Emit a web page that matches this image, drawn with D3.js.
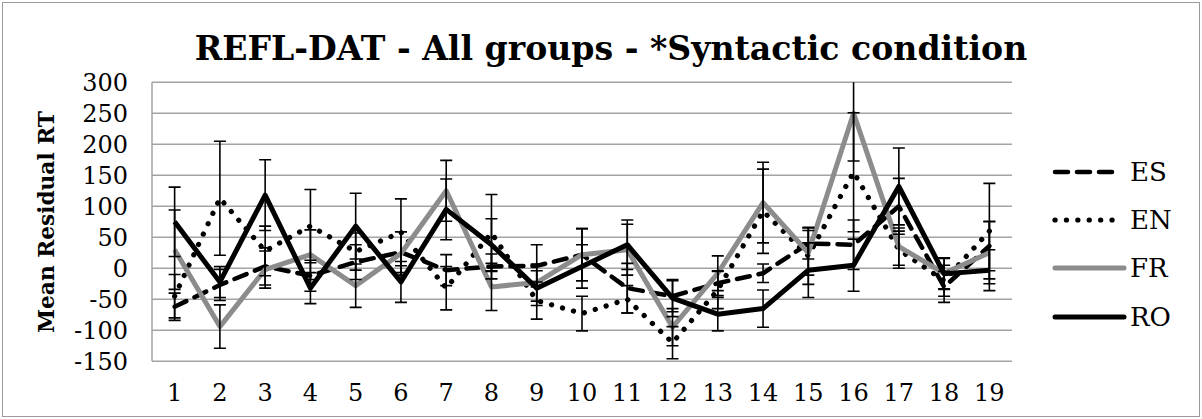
<!DOCTYPE html>
<html>
<head>
<meta charset="utf-8">
<script src="https://cdn.jsdelivr.net/npm/d3@7"></script>
<style>
  html, body { margin: 0; padding: 0; background: #fff; }
  svg { display: block; }
</style>
</head>
<body>
<svg id="chart" width="1202" height="419"></svg>
<script>
// ---- data ----
const categories = ["1","2","3","4","5","6","7","8","9","10","11","12","13","14","15","16","17","18","19"];
const yTicks = [-150, -100, -50, 0, 50, 100, 150, 200, 250, 300];
const seriesNames = ["ES", "EN", "FR", "RO"];
const ES = [-62, -27, 3, -12, 10, 26, -3, 3, 4, 22, -32, -45, -24, -8, 40, 38, 100, -30, 36];
const EN = [-45, 113, 28, 68, 27, 58, -32, 57, -52, -73, -50, -120, -35, 92, 20, 155, 30, -20, 60];
const FR = [30, -94, -2, 22, -28, 24, 125, -30, -23, 22, 30, -95, -8, 106, 25, 250, 35, -8, 25];
const RO = [75, -22, 118, -32, 68, -22, 95, 38, -32, 3, 38, -48, -74, -65, -3, 5, 132, -9, -3];
const ES_err = [22, 25, 30, 25, 28, 33, 25, 20, 34, 42, 40, 25, 20, 15, 25, 40, 45, 25, 40];
const EN_err = [35, 92, 40, 59, 30, 54, 35, 62, 30, 28, 22, 26, 30, 68, 46, 96, 30, 25, 77];
const FR_err = [64, 35, 30, 40, 35, 35, 49, 38, 30, 42, 41, 30, 28, 65, 36, 77, 30, 25, 50];
const RO_err = [56, 25, 57, 25, 53, 33, 49, 42, 28, 35, 40, 30, 27, 30, 44, 42, 62, 25, 33];
const titleText = "REFL-DAT - All groups - *Syntactic condition";
const yTitle = "Mean Residual RT";

const seriesValues = { ES: ES, EN: EN, FR: FR, RO: RO };
const seriesErrors = { ES: ES_err, EN: EN_err, FR: FR_err, RO: RO_err };
const styles = {
  ES: { color: "#000", width: 4.5, dash: "13,9", cap: "round" },
  EN: { color: "#000", width: 5.2, dash: "0.1,11.3", cap: "round" },
  FR: { color: "#8c8c8c", width: 5, dash: null, cap: "butt" },
  RO: { color: "#000", width: 5, dash: null, cap: "butt" }
};

// ---- layout ----
const svg = d3.select("#chart");
const plot = { left: 152, right: 1012, top: 82.3, bottom: 361.3 };
const serif = "'DejaVu Serif', 'Liberation Serif', serif";

svg.append("rect").attr("x", 2.5).attr("y", 2.5).attr("width", 1197).attr("height", 414)
  .attr("fill", "#fff").attr("stroke", "#9a9a9a").attr("stroke-width", 1);

const x = d3.scaleBand().domain(categories).range([plot.left, plot.right]).padding(0);
const cx = c => x(c) + x.bandwidth() / 2;
const y = d3.scaleLinear().domain([-150, 300]).range([plot.bottom, plot.top]);

// gridlines
const grid = svg.append("g");
grid.selectAll("line").data(yTicks).join("line")
  .attr("x1", plot.left).attr("x2", plot.right)
  .attr("y1", d => y(d)).attr("y2", d => y(d))
  .attr("stroke", "#a3a3a3").attr("stroke-width", 1.5);
// left axis line
svg.append("line").attr("x1", plot.left).attr("x2", plot.left)
  .attr("y1", plot.top).attr("y2", plot.bottom)
  .attr("stroke", "#a3a3a3").attr("stroke-width", 1.5);

// y axis labels
const yAxis = d3.axisLeft(y).tickValues(yTicks).tickSize(0).tickPadding(0)
  .tickFormat(d => String(d));
const yg = svg.append("g").attr("transform", `translate(${plot.left - 24},0)`).call(yAxis);
yg.select(".domain").remove();
yg.selectAll("text").attr("font-family", serif).attr("font-size", 24).attr("fill", "#000")
  .attr("dy", "0.36em");

// x axis labels
const xAxis = d3.axisBottom(x).tickSize(0).tickPadding(0);
const xg = svg.append("g").attr("transform", `translate(0,${plot.bottom + 23})`).call(xAxis);
xg.select(".domain").remove();
xg.selectAll("text").attr("font-family", serif).attr("font-size", 24).attr("fill", "#000")
  .attr("dy", "0.71em");

// clip for data
svg.append("clipPath").attr("id", "clip").append("rect")
  .attr("x", plot.left - 20).attr("y", plot.top).attr("width", plot.right - plot.left + 40)
  .attr("height", plot.bottom - plot.top);

const dataG = svg.append("g").attr("clip-path", "url(#clip)");
const line = d3.line().x((d, i) => cx(categories[i])).y(d => y(d));

seriesNames.forEach(name => {
  const s = styles[name];
  const p = dataG.append("path").datum(seriesValues[name])
    .attr("d", line).attr("fill", "none")
    .attr("stroke", s.color).attr("stroke-width", s.width)
    .attr("stroke-linecap", s.cap).attr("stroke-linejoin", "round");
  if (s.dash) p.attr("stroke-dasharray", s.dash);
});

// error bars
const capHalf = 6;
seriesNames.forEach(name => {
  const vals = seriesValues[name], errs = seriesErrors[name];
  const g = dataG.append("g").attr("stroke", "#000").attr("stroke-width", 1.6);
  vals.forEach((v, i) => {
    const xc = cx(categories[i]);
    const hi = v + errs[i], lo = v - errs[i];
    g.append("line").attr("x1", xc).attr("x2", xc).attr("y1", y(hi)).attr("y2", y(lo));
    [hi, lo].forEach(e => {
      if (e <= 300 && e >= -150) {
        g.append("line").attr("x1", xc - capHalf).attr("x2", xc + capHalf)
          .attr("y1", y(e)).attr("y2", y(e));
      }
    });
  });
});

// title
const t = svg.append("text").attr("x", 611).attr("y", 60).attr("text-anchor", "middle")
  .attr("font-family", serif).attr("font-weight", "bold").attr("font-size", 30)
  .attr("fill", "#000").text(titleText);
const tw = t.node().getComputedTextLength();
t.attr("font-size", 30 * 833 / tw);

// y title
const yt = svg.append("text").attr("transform", "translate(54,222) rotate(-90)")
  .attr("text-anchor", "middle").attr("font-family", serif).attr("font-weight", "bold")
  .attr("font-size", 18).attr("fill", "#000").text(yTitle);
const yw = yt.node().getComputedTextLength();
yt.attr("font-size", 18 * 222 / yw);

// legend
const legendRows = [172, 220, 268, 317];
seriesNames.forEach((name, i) => {
  const s = styles[name];
  const ly = legendRows[i];
  const ln = svg.append("line").attr("x1", 1055).attr("x2", name === "ES" ? 1114 : (name === "EN" ? 1117 : 1124))
    .attr("y1", ly).attr("y2", ly)
    .attr("stroke", s.color).attr("stroke-width", s.width)
    .attr("stroke-linecap", "round");
  if (s.dash) ln.attr("stroke-dasharray", s.dash);
  svg.append("text").attr("x", 1130).attr("y", ly).attr("dy", "0.36em")
    .attr("font-family", serif).attr("font-size", 26).attr("fill", "#000").text(name);
});
</script>
</body>
</html>
